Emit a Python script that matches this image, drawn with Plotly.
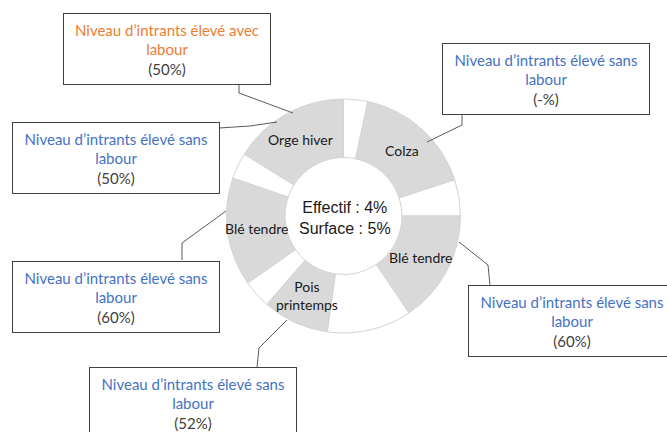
import math
import plotly.graph_objects as go

# slices clockwise from 12 o'clock, sizes read in degrees
segment_labels = ["", "Colza", "", "Blé tendre", "", "Pois<br>printemps", "", "Blé tendre", "", "Orge hiver"]
segment_values = [12, 60, 18, 56, 42, 33, 14, 54, 13, 58]
segment_filled = [False, True, False, True, False, True, False, True, False, True]

box_titles = [
    "Niveau d’intrants élevé avec<br>labour",
    "Niveau d’intrants élevé sans<br>labour",
    "Niveau d’intrants élevé sans<br>labour",
    "Niveau d’intrants élevé sans<br>labour",
    "Niveau d’intrants élevé sans<br>labour",
    "Niveau d’intrants élevé sans<br>labour",
]
box_shares = ["(50%)", "(50%)", "(-%)", "(60%)", "(60%)", "(52%)"]
box_colors = ["#ED7D31", "#4472C4", "#4472C4", "#4472C4", "#4472C4", "#4472C4"]

center_text = "Effectif : 4%<br>Surface : 5%"

W, H = 667, 432
CX, CY, R = 343.5, 216, 117  # donut centre / radius in pixels
HOLE = 0.5


def px(x):
    return x / W


def py(y):
    return 1 - y / H


fig = go.Figure()
fig.add_trace(go.Pie(
    values=segment_values,
    textinfo="none",
    marker=dict(colors=["#d9d9d9" if f else "#ffffff" for f in segment_filled],
                line=dict(color="#d4d4d4", width=1)),
    sort=False,
    direction="clockwise",
    hole=HOLE,
    domain=dict(x=[px(CX - R), px(CX + R)], y=[py(CY + R), py(CY - R)]),
    showlegend=False,
    hoverinfo="skip",
))

# slice names placed at the middle of each slice, in the ring
total = sum(segment_values)
start = 0
rmid = R * (1 + HOLE) / 2
for lab, v in zip(segment_labels, segment_values):
    mid = (start + v / 2) / total * 2 * math.pi
    start += v
    if not lab:
        continue
    fig.add_annotation(
        x=px(CX + rmid * math.sin(mid)), y=py(CY - rmid * math.cos(mid)),
        xref="paper", yref="paper", xanchor="center", yanchor="middle",
        showarrow=False, text=lab,
        font=dict(family="Lato", size=14, color="#1a1a1a"),
    )

# box centres (pixels) and leader paths
box_pos = [(166.5, 49), (115.5, 158), (545.5, 78.5), (115.5, 297), (572, 321), (193, 403)]
leaders = [
    [(239, 83), (239, 93), (293, 113)],
    [(219, 128), (250, 126), (277, 122)],
    [(462, 113), (462, 125), (427, 142)],
    [(182, 260), (182, 243), (226, 211)],
    [(490, 285), (488, 265), (459, 242)],
    [(257, 367), (259, 348), (287, 320)],
]

for (cx, cy), title, share, col in zip(box_pos, box_titles, box_shares, box_colors):
    fig.add_annotation(
        x=px(cx), y=py(cy), xref="paper", yref="paper",
        xanchor="center", yanchor="middle", showarrow=False,
        text=f"<span style='color:{col}'>{title}</span><br><span style='color:#404040'>{share}</span>",
        font=dict(family="Lato", size=15),
        width=204, height=68, borderpad=1,
        bordercolor="#404040", borderwidth=1, bgcolor="white",
    )

for pts in leaders:
    path = "M " + " L ".join(f"{px(x)} {py(y)}" for x, y in pts)
    fig.add_shape(type="path", path=path, xref="paper", yref="paper",
                  line=dict(color="#595959", width=1))

fig.add_annotation(
    x=px(345), y=py(218), xref="paper", yref="paper", showarrow=False,
    text=center_text, font=dict(family="Liberation Sans", size=16, color="#1a1a1a"),
)

fig.update_layout(
    width=W, height=H,
    margin=dict(l=0, r=0, t=0, b=0),
    paper_bgcolor="white", plot_bgcolor="white",
)

fig.write_html("out.html", config={"displayModeBar": False},
               post_script="document.body.style.margin='0';document.body.style.overflow='hidden';")
